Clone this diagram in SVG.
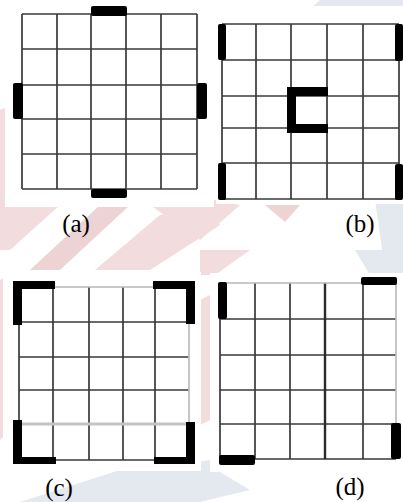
<svg xmlns="http://www.w3.org/2000/svg" width="403" height="502" viewBox="0 0 403 502">
<style>
.wm-p{fill:#f3dcdd}
.wm-p2{fill:#eed3d5}
.wm-b{fill:#e4e8ef}
.box{fill:#ffffff}
.g{stroke:#3a3a3a;stroke-width:1.7;fill:none}
.gl{stroke:#b8b8b8;stroke-width:1.6;fill:none}
.bar{fill:#000000}
.lbl{font-family:"Liberation Serif","Times New Roman",serif;font-size:25px;fill:#000;text-anchor:middle}
</style>
<rect x="0" y="0" width="403" height="502" fill="#ffffff"/>
<g id="watermark">
<polygon class="wm-p" points="0,110 12,105 12,240 0,250"/>
<polygon class="wm-p" points="0,205 60,205 10,250 0,250"/>
<polygon class="wm-p2" points="30,270 100,205 130,205 60,270"/>
<polygon class="wm-p" points="95,270 160,215 210,208 220,225 150,270"/>
<polygon class="wm-p" points="150,205 215,200 240,205 200,240"/>
<polygon class="wm-p2" points="265,205 300,205 285,222"/>
<polygon class="wm-p" points="0,280 10,275 10,430 0,440"/>
<polygon class="wm-p" points="200,250 250,250 215,275 200,275"/>
<polygon class="wm-p" points="200,300 210,295 210,420 200,425"/>
<polygon class="wm-b" points="375,200 403,185 403,270 385,270"/>
<polygon class="wm-b" points="320,0 403,0 403,15 300,18"/>
<polygon class="wm-b" points="355,250 403,250 403,275 370,275"/>
<polygon class="wm-b" points="20,502 120,470 220,472 250,490 200,502"/>
<polygon class="wm-b" points="150,470 210,460 210,490 170,495"/>
</g>
<g id="boxes">
<rect class="box" x="5" y="0" width="209" height="207"/>
<rect class="box" x="216" y="6" width="187" height="198"/>
<rect class="box" x="3" y="272" width="198" height="199"/>
<rect class="box" x="210" y="273" width="193" height="199"/>
</g>
<g id="grid-a">
<path class="g" d="M22,14V189M57,14V189M91,14V189M126,14V189M161,14V189M197,14V189M22,14H197M22,49H197M22,85H197M22,119H197M22,154H197M22,189H197"/>
<rect class="bar" x="91" y="6" width="36" height="10" rx="2"/>
<rect class="bar" x="91" y="189" width="36" height="9" rx="2"/>
<rect class="bar" x="13" y="83" width="10" height="36" rx="2"/>
<rect class="bar" x="197" y="83" width="10" height="36" rx="2"/>
</g>
<g id="grid-b">
<path class="g" d="M222,24V199M256,24V199M291,24V199M327,24V199M363,24V199M399,24V199M222,24H399M222,60H399M222,96H399M222,128H399M222,163H399M222,199H399"/>
<rect class="bar" x="218" y="24" width="8" height="36" rx="2"/>
<rect class="bar" x="218" y="163" width="8" height="37" rx="2"/>
<rect class="bar" x="395" y="24" width="8" height="37" rx="2"/>
<rect class="bar" x="395" y="164" width="8" height="36" rx="2"/>
<path class="bar" d="M287,87H328V96H296V124H328V133H287Z"/>
</g>
<g id="grid-c">
<path class="g" d="M19,287V460M53,287V460M89,287V460M123,287V460M155,287V460M19,322H189M19,357H189M19,390H189M19,460H189"/>
<path class="gl" d="M19,287H189M189,287V460"/>
<path d="M19,424H189" stroke="#c4c4c4" stroke-width="3" fill="none"/>
<path class="bar" d="M13,281H55V289H22V325H13Z"/>
<path class="bar" d="M153,281H195V324H186V289H153Z"/>
<path class="bar" d="M13,420H22V457H56V464H13Z"/>
<path class="bar" d="M186,422H195V464H154V457H186Z"/>
</g>
<g id="grid-d">
<path class="g" d="M220,283V459M255,283V459M290,283V459M363,283V459M220,319H396M220,355H396M220,390H396M220,424H396M220,459H396"/>
<path d="M325,283V459" stroke="#2a2a2a" stroke-width="2.4" fill="none"/>
<path class="gl" d="M220,283H396M396,283V459"/>
<rect class="bar" x="218" y="282" width="9" height="37" rx="2"/>
<rect class="bar" x="361" y="277" width="36" height="8" rx="2"/>
<rect class="bar" x="391" y="423" width="10" height="36" rx="2"/>
<rect class="bar" x="219" y="455" width="36" height="10" rx="2"/>
</g>
<g id="labels">
<text class="lbl" x="76" y="232">(a)</text>
<text class="lbl" x="360" y="232">(b)</text>
<text class="lbl" x="59" y="496">(c)</text>
<text class="lbl" x="350" y="495">(d)</text>
</g>
</svg>
